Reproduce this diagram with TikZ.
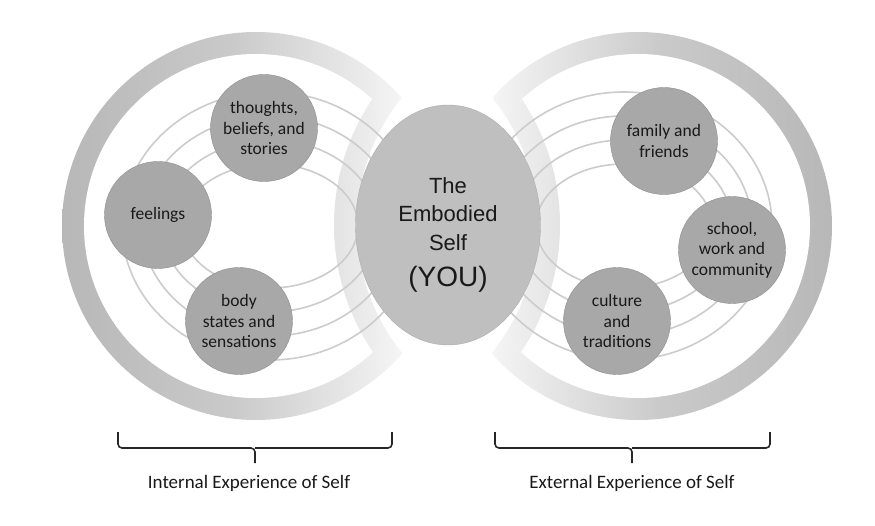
\documentclass[tikz,border=0pt]{standalone}
\usepackage{fontspec}
\setmainfont{Carlito}
\newfontfamily\selffont{Liberation Sans}
\usetikzlibrary{shapes.geometric}
\tikzset{
  blob/.style={circle, minimum size=107pt, inner sep=0pt, align=center, draw=black!45, fill=black!34, text=black!90, font=\fontsize{17.5}{20.5}\selectfont},
  selfnode/.style={ellipse, minimum width=185pt, minimum height=240pt, draw=black!32, fill=black!25},
  selftext/.style={align=center, text=black!90, font=\selffont\fontsize{22}{28.5}\selectfont},
  ring/.style={draw=black!20, line width=1.6pt},
  brace/.style={draw=black!85, line width=1.6pt, rounded corners=4pt},
  tag/.style={font=\fontsize{19}{22}\selectfont, text=black!90}
}

\begin{document}
\begin{tikzpicture}[x=1pt, y=-1pt]
	\useasboundingbox (0,0) rectangle (875,526);
	% left loop
	\begin{scope}
		\clip (256,226) circle (194pt);
		\shade[left color=black!28, right color=black!4, middle color=black!21] (62,30) rectangle (402,422);
		\fill[white] (560,225) circle (203pt);
		\clip (256,226) circle (172pt);
		\fill[white] (80,50) rectangle (430,402);
		\clip (560,225) circle (226pt);
		\shade[left color=black!28, right color=black!4, middle color=black!21] (62,30) rectangle (402,422);
		\fill[white] (560,225) circle (203pt);
	\end{scope}
	% right loop
	\begin{scope}
		\clip (638,226) circle (194pt);
		\shade[left color=black!4, right color=black!28, middle color=black!21] (492,30) rectangle (832,422);
		\fill[white] (334,225) circle (203pt);
		\clip (638,226) circle (172pt);
		\fill[white] (464,50) rectangle (814,402);
		\clip (334,225) circle (226pt);
		\shade[left color=black!4, right color=black!28, middle color=black!21] (492,30) rectangle (832,422);
		\fill[white] (334,225) circle (203pt);
	\end{scope}
	%
	\foreach \rx/\ry in {148/134, 128/110, 108/86, 88/62} {
		\draw[ring] (270,226) ellipse ({\rx pt} and {\ry pt});
		\draw[ring] (624,226) ellipse ({\rx pt} and {\ry pt});
	}
	%
	\node[selfnode] (self) at (448,225) {};
	\node[selftext] (selflabel) at ([yshift=-10pt]self.center) {The\\Embodied\\Self\\[8pt]{\fontsize{28}{30}\selectfont (YOU)}};
	\node[blob] (thoughts) at (264,128) {thoughts,\\beliefs, and\\stories};
	\node[blob] (feelings) at (158,215) {feelings};
	\node[blob] (body) at (239,321) {body\\states and\\sensations};
	\node[blob] (family) at (664,141) {family and\\friends};
	\node[blob] (school) at (732,250) {school,\\work and\\community};
	\node[blob] (culture) at (617,321) {culture\\and\\traditions};
	%
	\node[tag] (inside) at (249,483) {Internal Experience of Self};
	\node[tag] (outside) at (632,483) {External Experience of Self};
	\coordinate (ileft) at (118,432);
	\coordinate (iright) at (392,432);
	\coordinate (imid) at (255,448);
	\coordinate (itip) at (255,463);
	\coordinate (oleft) at (495,432);
	\coordinate (oright) at (770,432);
	\coordinate (omid) at (632,448);
	\coordinate (otip) at (632,463);
	\draw[brace] (ileft) |- (imid) -- (itip);
	\draw[brace] (iright) |- (imid);
	\draw[brace] (oleft) |- (omid) -- (otip);
	\draw[brace] (oright) |- (omid);
\end{tikzpicture}
\end{document}
